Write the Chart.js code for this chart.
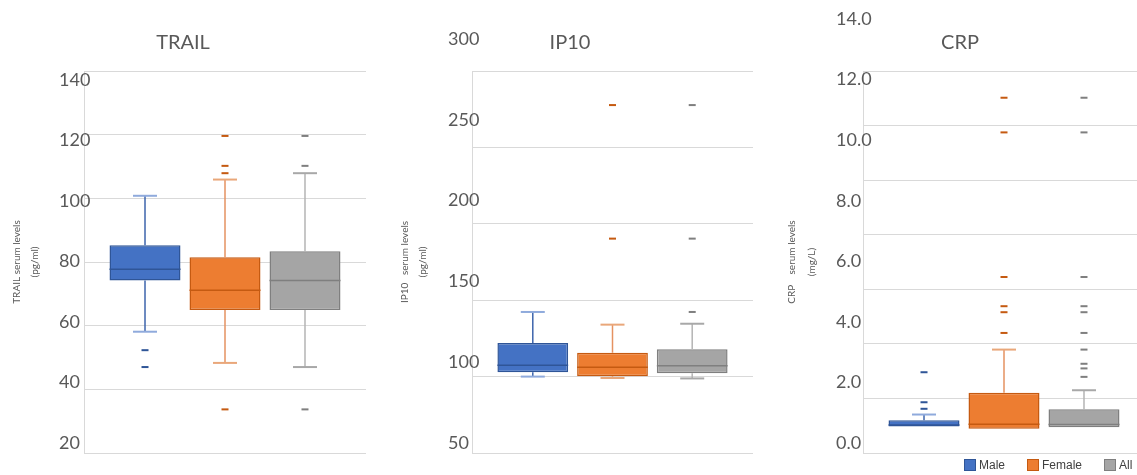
<!DOCTYPE html>
<html>
<head>
<meta charset="utf-8">
<script src="https://cdn.jsdelivr.net/npm/chart.js@4.4.1/dist/chart.umd.min.js"></script>
<style>
  html, body { margin: 0; padding: 0; background: #fff; }
  body { width: 1137px; height: 475px; overflow: hidden; position: relative; }
  .panel { position: absolute; top: 0; width: 380px; height: 475px; }
  #leyenda { position: absolute; left: 964px; top: 459px; display: flex; gap: 22px;
             font: 12px "Liberation Sans", Arial, sans-serif; color: #404040; line-height: 12px; }
  #leyenda .caja { display: inline-block; width: 12px; height: 12px; margin-right: 3px;
                   vertical-align: top; box-sizing: border-box; border: 1px solid; }
</style>
</head>
<body>
<div class="panel" style="left:0px"><canvas id="trail"></canvas></div>
<div class="panel" style="left:387px"><canvas id="ip10"></canvas></div>
<div class="panel" style="left:775px"><canvas id="crp"></canvas></div>
<div id="leyenda"></div>
<script>
// --- Datos ---
const groups = ['Male', 'Female', 'All'];

// TRAIL (pg/ml)
const trailTicks = [20, 40, 60, 80, 100, 120, 140];
const trailMin = [58.1, 48.3, 47.0];
const trailQ1 = [74.2, 64.9, 64.9];
const trailMedian = [77.7, 71.1, 74.2];
const trailQ3 = [85.3, 81.5, 83.4];
const trailMax = [100.8, 105.9, 107.9];
const trailOutliers = [[52.3, 47.0], [119.6, 110.2, 107.9, 33.7], [119.6, 110.2, 33.7]];

// IP10 (pg/ml)
const ip10Ticks = [50, 100, 150, 200, 250, 300];
const ip10Min = [100.0, 99.1, 98.8];
const ip10Q1 = [102.8, 100.2, 102.2];
const ip10Median = [107.4, 106.1, 107.1];
const ip10Q3 = [122.0, 115.6, 117.9];
const ip10Max = [142.3, 134.0, 134.6];
const ip10Outliers = [[], [277.7, 190.3], [277.7, 190.3, 142.3]];

// CRP (mg/L)
const crpTicks = [0, 2, 4, 6, 8, 10, 12, 14];
const crpMin = [0.97, 0.89, 0.94];
const crpQ1 = [0.97, 0.89, 0.94];
const crpMedian = [1.03, 1.05, 1.04];
const crpQ3 = [1.20, 2.21, 1.60];
const crpMax = [1.41, 3.79, 2.30];
const crpOutliers = [[2.96, 1.86, 1.62],
                     [13.02, 11.75, 6.45, 5.38, 5.16, 4.40],
                     [13.02, 11.75, 6.45, 5.38, 5.16, 4.40, 3.79, 3.27, 3.10, 2.79]];

// --- Estilos ---
const fillColors = ['#4472C4', '#ED7D31', '#A5A5A5'];
const borderColors = ['#2F5597', '#C55A11', '#7F7F7F'];
const whiskerColors = ['#3D64AC', '#E59261', '#B4B4B4'];
const capColors = ['#8FAADC', '#E9A77A', '#A8A8A8'];
const textColor = '#595959';
const gridColor = '#D9D9D9';

Chart.defaults.font.family = 'Lato, "Open Sans", sans-serif';
Chart.defaults.animation = false;

// --- Plugin: bigotes, medianas y valores atipicos ---
function boxExtras(stats) {
  return {
    id: 'boxExtras',
    afterDatasetsDraw(chart) {
      const ctx = chart.ctx;
      const y = chart.scales.y;
      const line = (x1, y1, x2, y2) => { ctx.beginPath(); ctx.moveTo(x1, y1); ctx.lineTo(x2, y2); ctx.stroke(); };
      groups.forEach((g, i) => {
        const bar = chart.getDatasetMeta(i).data[0];
        const x = bar.x;
        const half = bar.width / 2;
        const yMin = y.getPixelForValue(stats.min[i]);
        const yQ1 = y.getPixelForValue(stats.q1[i]);
        const yMed = y.getPixelForValue(stats.median[i]);
        const yQ3 = y.getPixelForValue(stats.q3[i]);
        const yMax = y.getPixelForValue(stats.max[i]);
        ctx.save();
        ctx.lineWidth = 1.5;
        ctx.strokeStyle = whiskerColors[i];
        if (stats.max[i] > stats.q3[i]) line(x, yQ3, x, yMax);
        if (stats.min[i] < stats.q1[i]) line(x, yQ1, x, yMin);
        ctx.lineWidth = 2;
        ctx.strokeStyle = capColors[i];
        if (stats.max[i] > stats.q3[i]) line(x - 12, yMax, x + 12, yMax);
        if (stats.min[i] < stats.q1[i]) line(x - 12, yMin, x + 12, yMin);
        ctx.lineWidth = 1.5;
        ctx.strokeStyle = borderColors[i];
        line(x - half, yMed, x + half, yMed);
        ctx.fillStyle = borderColors[i];
        stats.outliers[i].forEach(v => {
          const py = y.getPixelForValue(v);
          ctx.fillRect(x - 3.5, py - 1, 7, 2);
        });
        ctx.restore();
      });
    }
  };
}

// --- Crear cada grafica ---
function crearBoxplot(cfg) {
  const datasets = groups.map((g, i) => ({
    label: g,
    data: [[cfg.q1[i], cfg.q3[i]]],
    backgroundColor: fillColors[i],
    borderColor: borderColors[i],
    borderWidth: 1.5,
    borderSkipped: false,
    categoryPercentage: 0.851,
    barPercentage: 0.8875,
    yAxisID: 'y'
  }));

  new Chart(document.getElementById(cfg.id), {
    type: 'bar',
    data: { labels: [''], datasets },
    options: {
      responsive: true,
      maintainAspectRatio: false,
      layout: { padding: { left: 0, right: cfg.padRight, top: 0, bottom: 22 } },
      plugins: {
        legend: { display: false },
        tooltip: { enabled: false },
        title: {
          display: true,
          text: cfg.title,
          color: textColor,
          font: { size: 20, weight: 'normal' },
          padding: { top: 31, bottom: 16 }
        }
      },
      scales: {
        x: { display: false },
        y: {
          position: 'left',
          weight: 10,
          min: cfg.ticks[0],
          max: cfg.ticks[cfg.ticks.length - 1],
          ticks: { display: false, stepSize: cfg.ticks[1] - cfg.ticks[0] },
          grid: { color: gridColor, drawTicks: false },
          border: { display: false },
          title: {
            display: true,
            text: cfg.axisTitle,
            color: textColor,
            font: { size: 10, lineHeight: cfg.titleLine },
            padding: { top: cfg.titlePad, bottom: 0 }
          },
          afterFit: s => { s.width = cfg.titleWidth; }
        },
        yl: {
          position: 'left',
          weight: 0,
          min: cfg.labelMin,
          max: cfg.labelMax,
          grid: { display: false, drawTicks: false },
          border: { display: true, color: gridColor },
          ticks: {
            color: textColor,
            font: { size: 18 },
            mirror: true,
            crossAlign: 'near',
            autoSkip: false,
            padding: -cfg.labelWidth,
            callback: v => cfg.decimals ? v.toFixed(cfg.decimals) : String(v)
          },
          afterBuildTicks: s => { s.ticks = cfg.ticks.map(v => ({ value: v })); },
          afterFit: s => { s.width = cfg.labelWidth; }
        }
      }
    },
    plugins: [boxExtras(cfg)]
  });
}

crearBoxplot({
  id: 'trail', title: 'TRAIL', axisTitle: ['TRAIL serum levels', '(pg/ml)'],
  ticks: trailTicks, min: trailMin, q1: trailQ1, median: trailMedian, q3: trailQ3, max: trailMax, outliers: trailOutliers,
  labelMin: 16.69, labelMax: 142.98, decimals: 0,
  titleWidth: 59, labelWidth: 25, titlePad: 8, titleLine: 1.8, padRight: 14
});

crearBoxplot({
  id: 'ip10', title: 'IP10', axisTitle: ['IP10   serum levels', '(pg/ml)'],
  ticks: ip10Ticks, min: ip10Min, q1: ip10Q1, median: ip10Median, q3: ip10Q3, max: ip10Max, outliers: ip10Outliers,
  labelMin: 43.81, labelMax: 280.2, decimals: 0,
  titleWidth: 61, labelWidth: 24, titlePad: 9, titleLine: 1.8, padRight: 14
});

crearBoxplot({
  id: 'crp', title: 'CRP', axisTitle: ['CRP    serum levels', '(mg/L)'],
  ticks: crpTicks, min: crpMin, q1: crpQ1, median: crpMedian, q3: crpQ3, max: crpMax, outliers: crpOutliers,
  labelMin: -0.33, labelMax: 12.283, decimals: 1,
  titleWidth: 61, labelWidth: 27, titlePad: 7, titleLine: 2.0, padRight: 10
});

// --- Leyenda ---
const leyenda = document.getElementById('leyenda');
groups.forEach((g, i) => {
  leyenda.insertAdjacentHTML('beforeend',
    `<span><span class="caja" style="background:${fillColors[i]};border-color:${borderColors[i]}"></span>${g}</span>`);
});
</script>
</body>
</html>
